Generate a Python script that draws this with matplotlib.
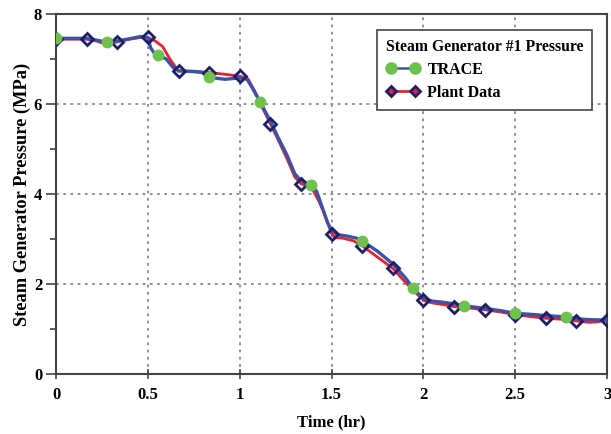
import numpy as np
import matplotlib
matplotlib.use("Agg")
import matplotlib.pyplot as plt
from matplotlib.lines import Line2D
from matplotlib.ticker import MultipleLocator

# plant data (red line, navy diamonds every 10 min)
plant_t = [0, 0.167, 0.22, 0.27, 0.333, 0.40, 0.46, 0.50, 0.54, 0.58, 0.62, 0.667,
           0.75, 0.833, 0.92, 1.0, 1.045, 1.08, 1.12, 1.167, 1.21, 1.256, 1.30, 1.333,
           1.37, 1.40, 1.43, 1.455, 1.48, 1.50, 1.52, 1.56, 1.62, 1.667, 1.75, 1.833,
           1.90, 1.96, 2.0, 2.05, 2.10, 2.167, 2.25, 2.333, 2.42, 2.5, 2.58, 2.667,
           2.75, 2.833, 2.90, 2.95, 3.0]
plant_p = [7.44, 7.44, 7.40, 7.33, 7.38, 7.44, 7.48, 7.48, 7.40, 7.28, 7.00, 6.73,
           6.73, 6.70, 6.66, 6.62, 6.56, 6.30, 5.95, 5.56, 5.20, 4.80, 4.38, 4.23,
           4.18, 4.08, 3.85, 3.62, 3.35, 3.12, 3.03, 3.02, 2.96, 2.85, 2.60, 2.35,
           2.05, 1.80, 1.64, 1.58, 1.55, 1.50, 1.47, 1.43, 1.38, 1.32, 1.28, 1.24,
           1.22, 1.18, 1.15, 1.16, 1.21]
plant_marks = [0, 0.167, 0.333, 0.5, 0.667, 0.833, 1.0, 1.167, 1.333, 1.5, 1.667,
               1.833, 2.0, 2.167, 2.333, 2.5, 2.667, 2.833, 3.0]

# TRACE (blue line, green dots every 1000 s)
trace_t = [0, 0.167, 0.22, 0.278, 0.333, 0.40, 0.46, 0.50, 0.515, 0.535, 0.556, 0.60,
           0.64, 0.667, 0.75, 0.80, 0.833, 0.88, 0.92, 1.0, 1.04, 1.07, 1.111, 1.167,
           1.21, 1.256, 1.30, 1.333, 1.36, 1.389, 1.42, 1.45, 1.48, 1.50, 1.53, 1.58,
           1.637, 1.667, 1.75, 1.833, 1.90, 1.944, 2.0, 2.05, 2.10, 2.167, 2.222,
           2.333, 2.42, 2.5, 2.58, 2.667, 2.778, 2.833, 2.90, 3.0]
trace_p = [7.46, 7.46, 7.42, 7.37, 7.40, 7.45, 7.50, 7.48, 7.25, 7.13, 7.09, 7.00,
           6.80, 6.74, 6.72, 6.70, 6.59, 6.57, 6.55, 6.58, 6.55, 6.35, 6.05, 5.62,
           5.25, 4.88, 4.45, 4.30, 4.25, 4.21, 4.05, 3.70, 3.35, 3.20, 3.10, 3.07,
           3.02, 2.96, 2.73, 2.45, 2.15, 1.91, 1.68, 1.62, 1.60, 1.56, 1.52,
           1.46, 1.41, 1.35, 1.33, 1.30, 1.27, 1.23, 1.21, 1.20]
trace_marks = [0, 0.278, 0.556, 0.833, 1.111, 1.389, 1.667, 1.944, 2.222, 2.5, 2.778]

plt.rcParams['font.family'] = ['Liberation Serif', 'DejaVu Serif']
plt.rcParams['font.weight'] = 'bold'

red = '#e8222c'
blue = '#3b52a8'
navy = '#1c1f6b'
green = '#6cc24a'
spine_c = '#444444'


def idx(t, marks):
    t = np.asarray(t)
    return [int(np.argmin(np.abs(t - m))) for m in marks]


fig = plt.figure(figsize=(6.11, 4.34), dpi=100)
ax = fig.add_axes([0.0917, 0.138, 0.9018, 0.8297])

ax.plot(plant_t, plant_p, color=red, lw=2.0, zorder=3)
ax.plot(trace_t, trace_p, color=blue, lw=2.4, zorder=4)
ax.plot(plant_t, plant_p, ls='none', marker='D', ms=6.5, mfc='none', mec=navy,
        mew=2.0, markevery=idx(plant_t, plant_marks), zorder=5)
ax.plot(trace_t, trace_p, ls='none', marker='o', ms=7.5, mfc=green, mec=green,
        markevery=idx(trace_t, trace_marks), zorder=6)

ax.set_xlim(0, 3)
ax.set_ylim(0, 8)
ax.yaxis.set_major_locator(MultipleLocator(2))
ax.yaxis.set_minor_locator(MultipleLocator(1))
ax.set_xticks([0, 0.5, 1, 1.5, 2, 2.5, 3])
ax.set_xticklabels(['0', '0.5', '1', '1.5', '2', '2.5', '3'])
ax.tick_params(axis='x', direction='inout', length=7, width=1.2, color=spine_c,
               labelsize=12, pad=6)
ax.tick_params(axis='y', which='major', direction='out', length=7, width=1.2,
               color=spine_c, labelsize=12, pad=3)
ax.tick_params(axis='y', which='minor', direction='out', length=4, width=1.2,
               color=spine_c)
for s in ax.spines.values():
    s.set_color(spine_c)
    s.set_linewidth(1.5)

ax.grid(True, which='major', ls=(0, (1.5, 2.5)), color='#888888', lw=1.3)
ax.set_axisbelow(True)

ax.set_xlabel('Time (hr)', fontsize=12, fontweight='bold', labelpad=8)
ax.set_ylabel('Steam Generator Pressure (MPa)', fontsize=13.2, fontweight='bold',
              labelpad=2)

handles = [
    Line2D([0], [0], color=blue, lw=1.8, marker='o', ms=8, mfc=green, mec=green),
    Line2D([0], [0], color=red, lw=2.0, marker='D', ms=5.5, mfc=red, mec=navy, mew=2.0),
]
leg = ax.legend(handles, ['TRACE', 'Plant Data'], title='Steam Generator #1 Pressure',
                loc='upper right', bbox_to_anchor=(0.973, 0.956), borderaxespad=0,
                fancybox=False, framealpha=1, edgecolor=spine_c, fontsize=11.5,
                title_fontsize=11.3, handlelength=2.1, handletextpad=0.5,
                borderpad=0.55, labelspacing=0.45, alignment='left', numpoints=2)
leg.get_title().set_fontweight('bold')
leg.get_frame().set_linewidth(1.2)

fig.savefig('out.png', dpi=100)
